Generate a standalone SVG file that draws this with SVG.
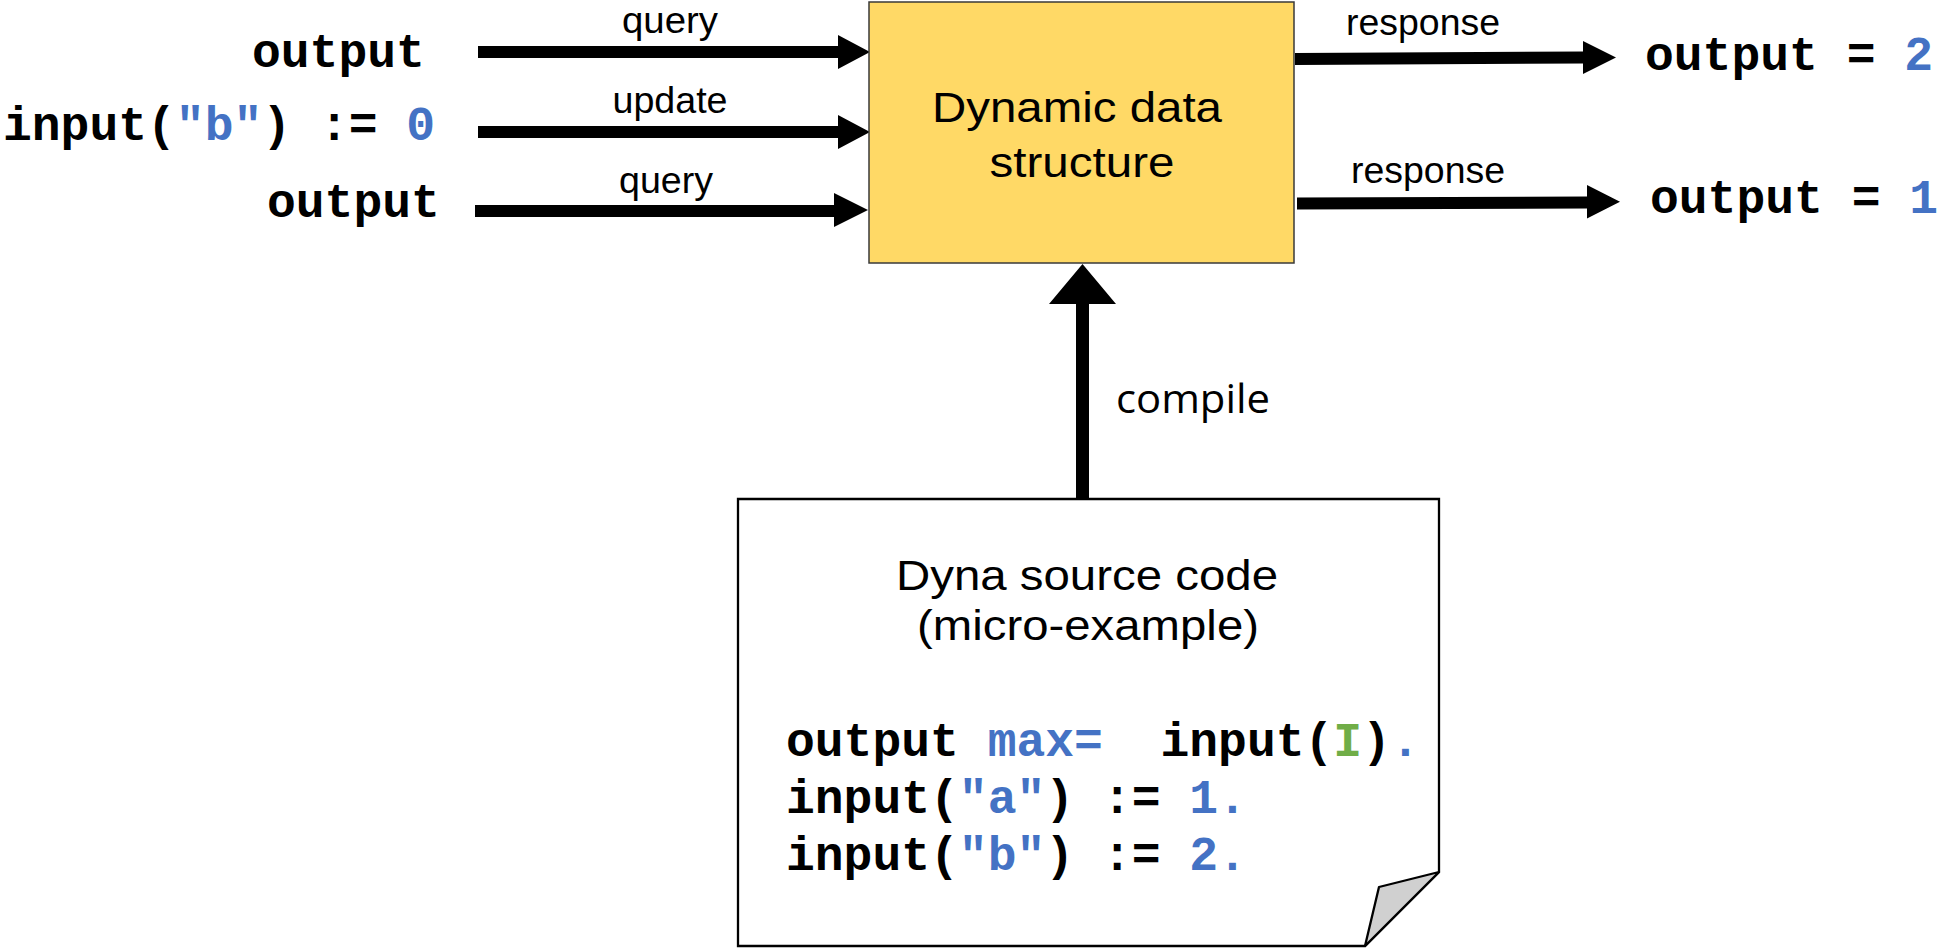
<svg xmlns="http://www.w3.org/2000/svg" width="1947" height="951" viewBox="0 0 1947 951">
  <style>
    .code { font-family: "Liberation Mono", "Courier New", monospace; font-weight: bold; font-size: 48px; fill: #000; }
    .kw { fill: #4472C4; }
    .var { fill: #70AD47; }
    .lbl { font-family: "Liberation Sans", Arial, sans-serif; font-size: 37px; fill: #000; text-anchor: middle; }
    .big { font-family: "Liberation Sans", Arial, sans-serif; font-size: 43px; fill: #000; text-anchor: middle; }
    .cmp { font-family: "Open Sans", "Liberation Sans", sans-serif; font-size: 40px; fill: #000; }
    .arrow { fill: #000; stroke: none; }
  </style>

  <rect width="1947" height="951" fill="#fff"/>

  <!-- connectors -->
  <g id="connectors">
    <!-- queries and update into the data structure -->
    <polygon class="arrow" points="478,46 838,46 838,35 870,52 838,69 838,58 478,58"/>
    <polygon class="arrow" points="478,126 838,126 838,115 870,132 838,149 838,138 478,138"/>
    <polygon class="arrow" points="475,205 834,205 834,193 868,210 834,227 834,217 475,217"/>
    <!-- responses -->
    <polygon class="arrow" points="1295,53 1583,51.5 1583,41 1616,57.5 1583,74 1583,63.5 1295,65"/>
    <polygon class="arrow" points="1297,197.5 1587,196.5 1587,185 1620,201.7 1587,218.5 1587,208.5 1297,209.5"/>
    <!-- compile -->
    <polygon class="arrow" points="1076,499 1076,304 1049,304 1082.5,264 1116,304 1089,304 1089,499"/>
  </g>

  <!-- edge labels -->
  <g id="edge-labels">
    <text class="lbl" x="670" y="33" textLength="96" lengthAdjust="spacingAndGlyphs">query</text>
    <text class="lbl" x="670" y="113" textLength="115" lengthAdjust="spacingAndGlyphs">update</text>
    <text class="lbl" x="666" y="193" textLength="94" lengthAdjust="spacingAndGlyphs">query</text>
    <text class="lbl" x="1423" y="35" textLength="154" lengthAdjust="spacingAndGlyphs">response</text>
    <text class="lbl" x="1428" y="183" textLength="154" lengthAdjust="spacingAndGlyphs">response</text>
    <text class="cmp" x="1116" y="413" textLength="154" lengthAdjust="spacingAndGlyphs">compile</text>
  </g>

  <!-- incoming requests -->
  <g id="req-query-1">
    <text class="code" x="252" y="67">output</text>
  </g>
  <g id="req-update">
    <text class="code" x="3" y="140">input(<tspan class="kw">"b"</tspan>) := <tspan class="kw">0</tspan></text>
  </g>
  <g id="req-query-2">
    <text class="code" x="267" y="217">output</text>
  </g>

  <!-- dynamic data structure -->
  <g id="data-structure">
    <rect x="869" y="2" width="425" height="261" fill="#FFD966" stroke="#3a3a3a" stroke-width="1.5"/>
    <text class="big" x="1077" y="122" textLength="290" lengthAdjust="spacingAndGlyphs">Dynamic data</text>
    <text class="big" x="1082" y="177" textLength="185" lengthAdjust="spacingAndGlyphs">structure</text>
  </g>

  <!-- responses -->
  <g id="resp-1">
    <text class="code" x="1645" y="70">output = <tspan class="kw">2</tspan></text>
  </g>
  <g id="resp-2">
    <text class="code" x="1650" y="213">output = <tspan class="kw">1</tspan></text>
  </g>

  <!-- source code note with folded corner -->
  <g id="source-note">
    <path d="M738,499 H1439 V872 L1365,946 H738 Z" fill="#fff" stroke="#000" stroke-width="2.3" stroke-linejoin="miter"/>
    <polygon points="1439,872 1379,887 1365,946" fill="#d0d0d0" stroke="#000" stroke-width="2.3" stroke-linejoin="round"/>
    <text class="big" x="1087" y="590" font-size="41" textLength="382" lengthAdjust="spacingAndGlyphs">Dyna source code</text>
    <text class="big" x="1088" y="640" font-size="41" textLength="342" lengthAdjust="spacingAndGlyphs">(micro-example)</text>
    <text class="code" x="786" y="756" xml:space="preserve">output <tspan class="kw">max=</tspan>  input(<tspan class="var">I</tspan>)<tspan class="kw">.</tspan></text>
    <text class="code" x="786" y="813" xml:space="preserve">input(<tspan class="kw">"a"</tspan>) := <tspan class="kw">1.</tspan></text>
    <text class="code" x="786" y="870" xml:space="preserve">input(<tspan class="kw">"b"</tspan>) := <tspan class="kw">2.</tspan></text>
  </g>
</svg>
